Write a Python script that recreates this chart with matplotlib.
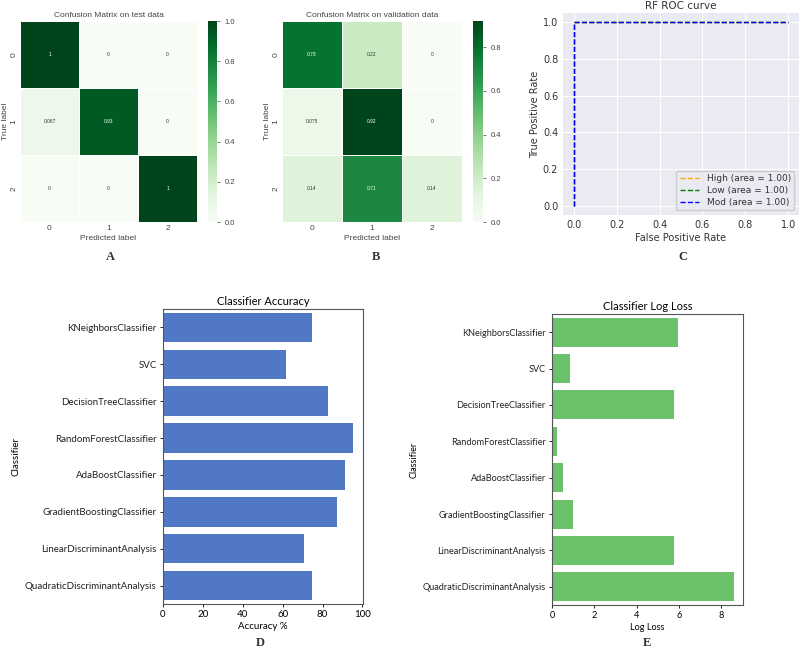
import matplotlib
matplotlib.use("Agg")
import matplotlib.pyplot as plt
import numpy as np

W, H = 803, 651

# confusion matrices
cm_test = np.array([[1.0, 0.0, 0.0],
                    [0.067, 0.93, 0.0],
                    [0.0, 0.0, 1.0]])
cm_test_txt = [["1", "0", "0"], ["0.067", "0.93", "0"], ["0", "0", "1"]]
cm_val = np.array([[0.78, 0.22, 0.0],
                   [0.075, 0.92, 0.0],
                   [0.14, 0.71, 0.14]])
cm_val_txt = [["0.78", "0.22", "0"], ["0.075", "0.92", "0"], ["0.14", "0.71", "0.14"]]
class_ticks = ["0", "1", "2"]

# ROC curves
roc_names = ["High", "Low", "Mod"]
roc_auc = [1.00, 1.00, 1.00]
roc_fpr = [[0.0, 0.0, 1.0], [0.0, 0.0, 1.0], [0.0, 0.0, 1.0]]
roc_tpr = [[0.0, 1.0, 1.0], [0.0, 1.0, 1.0], [0.0, 1.0, 1.0]]
roc_colors = ["orange", "green", "blue"]

# classifier comparison
classifiers = ["KNeighborsClassifier", "SVC", "DecisionTreeClassifier",
               "RandomForestClassifier", "AdaBoostClassifier",
               "GradientBoostingClassifier", "LinearDiscriminantAnalysis",
               "QuadraticDiscriminantAnalysis"]
accuracy = [74.7, 61.9, 82.9, 95.5, 91.3, 87.1, 70.5, 74.7]
log_loss = [5.94, 0.86, 5.75, 0.22, 0.54, 0.98, 5.78, 8.6]

NARROW = ["Liberation Sans Narrow", "Liberation Sans"]


def rect(x0, y0, x1, y1):
    return [x0 / W, 1 - y1 / H, (x1 - x0) / W, (y1 - y0) / H]


def confusion(fig, box, cbox, cm, txt, title, vmax):
    ax = fig.add_axes(rect(*box))
    cax = fig.add_axes(rect(*cbox))
    mesh = ax.pcolormesh(cm, cmap="Greens", vmin=0, vmax=vmax,
                         edgecolor="white", linewidth=0.6)
    ax.set_xlim(0, 3)
    ax.set_ylim(3, 0)
    for i in range(3):
        for j in range(3):
            c = "white" if cm[i, j] / vmax > 0.5 else "#333333"
            ax.text(j + 0.5, i + 0.5, txt[i][j], ha="center", va="center",
                    fontsize=3.5, color=c, family=NARROW)
    ax.set_xticks([0.5, 1.5, 2.5])
    ax.set_xticklabels(class_ticks, fontsize=6, family=NARROW)
    ax.set_yticks([0.5, 1.5, 2.5])
    ax.set_yticklabels(class_ticks, fontsize=6, rotation=90, va="center",
                       family=NARROW)
    ax.tick_params(length=0, pad=2, colors="#444444")
    for s in ax.spines.values():
        s.set_visible(False)
    ax.set_xlabel("Predicted label", fontsize=6, color="#444444", labelpad=2,
                  family=NARROW)
    ax.set_ylabel("True label", fontsize=6, color="#444444", labelpad=1,
                  family=NARROW)
    ax.set_title(title, fontsize=6, color="#444444", pad=3, family=NARROW)
    cb = fig.colorbar(mesh, cax=cax)
    cb.outline.set_visible(False)
    cb.set_ticks([0.0, 0.2, 0.4, 0.6, 0.8, 1.0][:int(vmax / 0.2 + 1e-6) + 1])
    cb.ax.tick_params(labelsize=5.5, length=2, width=0.5, colors="#444444")
    for lab in cb.ax.get_yticklabels():
        lab.set_family(NARROW)


fig = plt.figure(figsize=(W / 100, H / 100), dpi=100)

confusion(fig, (20, 21, 197, 222), (208, 21, 217, 222), cm_test, cm_test_txt,
          "Confusion Matrix on test data", 1.0)
confusion(fig, (282, 21, 462, 222), (473, 21, 483, 222), cm_val, cm_val_txt,
          "Confusion Matrix on validation data", 0.92)

# ROC panel
ax = fig.add_axes(rect(563, 13, 799, 215))
ax.set_facecolor("#EAEAF2")
ax.grid(True, color="white", linewidth=0.8)
ax.set_axisbelow(True)
for s in ax.spines.values():
    s.set_visible(False)
for name, auc, fx, ty, col in zip(roc_names, roc_auc, roc_fpr, roc_tpr, roc_colors):
    ax.plot(fx, ty, "--", color=col, linewidth=1.0,
            label="%s (area = %.2f)" % (name, auc))
ax.set_xlim(-0.05, 1.05)
ax.set_ylim(-0.05, 1.05)
ax.set_xticks(np.arange(0, 1.01, 0.2))
ax.set_yticks(np.arange(0, 1.01, 0.2))
ax.tick_params(labelsize=7, length=0, colors="#333333")
ax.set_xlabel("False Positive Rate", fontsize=7, color="#333333", labelpad=2)
ax.set_ylabel("True Positive Rate", fontsize=7, color="#333333", labelpad=2)
ax.set_title("RF ROC curve", fontsize=7.5, color="#333333", pad=3)
leg = ax.legend(loc="lower right", fontsize=6.5, handlelength=2.2,
                facecolor="#EAEAF2", edgecolor="#cccccc", framealpha=1,
                borderpad=0.4, labelspacing=0.3)
for t in leg.get_texts():
    t.set_color("#333333")


def barpanel(box, vals, color, title, xlabel, xticks, fs):
    ax = fig.add_axes(rect(*box))
    y = np.arange(len(classifiers))
    ax.barh(y, vals, height=0.8, color=color)
    ax.set_ylim(len(classifiers) - 0.5, -0.5)
    ax.set_xlim(0, max(vals) * 1.05)
    ax.set_yticks(y)
    ax.set_yticklabels(classifiers, fontsize=fs, family="Lato", color="#222222")
    ax.set_xticks(xticks)
    ax.tick_params(labelsize=fs, length=2.5, width=0.6, pad=2)
    for lab in ax.get_xticklabels():
        lab.set_family("Lato")
    for s in ax.spines.values():
        s.set_color("#555555")
        s.set_linewidth(0.8)
    ax.set_xlabel(xlabel, fontsize=fs, family="Lato", labelpad=2)
    ax.set_ylabel("Classifier", fontsize=fs, family="Lato", labelpad=3)
    ax.set_title(title, fontsize=8, family="Lato", pad=3)
    return ax


barpanel((163, 309, 363, 604), accuracy, "#5078c4", "Classifier Accuracy",
         "Accuracy %", [0, 20, 40, 60, 80, 100], 7)
barpanel((552, 314, 743, 605), log_loss, "#6cc26a", "Classifier Log Loss",
         "Log Loss", [0, 2, 4, 6, 8], 6.6)

panel_letters = ["A", "B", "C", "D", "E"]
letter_pos = [(110, 257), (376, 257), (683, 257), (260, 643), (647, 643)]
for lt, (px, py) in zip(panel_letters, letter_pos):
    fig.text(px / W, 1 - py / H, lt, ha="center", va="center", fontsize=9,
             family="Liberation Serif", fontweight="bold", color="#333333")

fig.savefig("out.png", dpi=100)
